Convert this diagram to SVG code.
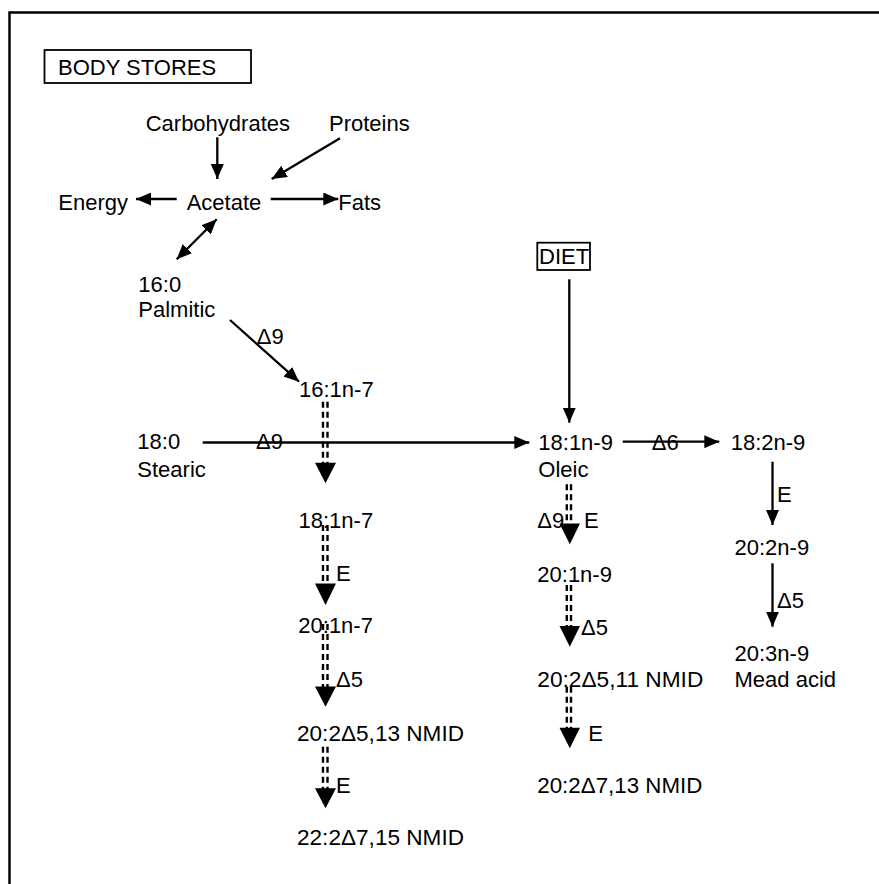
<svg xmlns="http://www.w3.org/2000/svg" width="879" height="884" viewBox="0 0 879 884">
<style>
text{font-family:"Liberation Sans",Arial,sans-serif;font-size:22px;fill:#000}
.ln{stroke:#000;stroke-width:2.3;fill:none}
.ds{stroke:#000;stroke-width:2.4;fill:none;stroke-dasharray:6 4}
.hd{fill:#000}
.bx{fill:none;stroke:#000;stroke-width:1.8}
</style>
<defs>
<marker id="ah" markerUnits="userSpaceOnUse" markerWidth="16" markerHeight="13" refX="15" refY="6.5" orient="auto-start-reverse">
<path d="M0,0 L15,6.5 L0,13 z" fill="#000"/>
</marker>
</defs>
<rect width="879" height="884" fill="#fff"/>
<path d="M9.5,884 V12.5 H879" fill="none" stroke="#000" stroke-width="2.5"/>

<g id="body-stores"><rect class="bx" x="44.5" y="50" width="206.5" height="33"/><text x="58" y="75">BODY STORES</text></g>
<g id="carbohydrates"><text x="145.7" y="130.7">Carbohydrates</text></g>
<g id="proteins"><text x="329" y="130.7">Proteins</text></g>
<g id="energy"><text x="58.3" y="210">Energy</text></g>
<g id="acetate"><text x="186.7" y="210">Acetate</text></g>
<g id="fats"><text x="338.3" y="210">Fats</text></g>
<g id="palmitic"><text x="138.3" y="291.7">16:0</text><text x="138.3" y="316.7">Palmitic</text></g>
<g id="n16-1n7"><text x="299" y="396.7">16:1n-7</text></g>
<g id="stearic"><text x="137.3" y="449.3">18:0</text><text x="137.3" y="476.7">Stearic</text></g>
<g id="diet"><rect class="bx" x="537.3" y="242.7" width="52.7" height="27.3"/><text x="539" y="264">DIET</text></g>
<g id="oleic"><text x="538.3" y="450">18:1n-9</text><text x="538.3" y="476.7">Oleic</text></g>
<g id="n18-2n9"><text x="730.7" y="450">18:2n-9</text></g>
<g id="n20-2n9"><text x="734.5" y="555">20:2n-9</text></g>
<g id="mead"><text x="734.5" y="660.7">20:3n-9</text><text x="734.5" y="686.7">Mead acid</text></g>
<g id="n18-1n7"><text x="298.5" y="527.5">18:1n-7</text></g>
<g id="n20-1n7"><text x="298.3" y="633.3">20:1n-7</text></g>
<g id="n20-2d513"><text x="297" y="740.7" textLength="167" lengthAdjust="spacingAndGlyphs">20:2Δ5,13 NMID</text></g>
<g id="n22-2d715"><text x="297" y="845" textLength="167" lengthAdjust="spacingAndGlyphs">22:2Δ7,15 NMID</text></g>
<g id="n20-1n9"><text x="537.3" y="581.7">20:1n-9</text></g>
<g id="n20-2d511"><text x="537.3" y="687.3" textLength="166" lengthAdjust="spacingAndGlyphs">20:2Δ5,11 NMID</text></g>
<g id="n20-2d713"><text x="537.3" y="793.3" textLength="165" lengthAdjust="spacingAndGlyphs">20:2Δ7,13 NMID</text></g>

<g id="connectors">
<line class="ln" x1="217.3" y1="137.3" x2="217.3" y2="179" marker-end="url(#ah)"/>
<line class="ln" x1="340" y1="138.3" x2="271.7" y2="179" marker-end="url(#ah)"/>
<line class="ln" x1="176.7" y1="199" x2="136" y2="199" marker-end="url(#ah)"/>
<line class="ln" x1="270.7" y1="199" x2="338.3" y2="199" marker-end="url(#ah)"/>
<line class="ln" x1="216.7" y1="219.3" x2="176.7" y2="259.3" marker-start="url(#ah)" marker-end="url(#ah)"/>
<line class="ln" x1="230" y1="320" x2="299" y2="381.7" marker-end="url(#ah)"/>
<line class="ln" x1="202.7" y1="442.5" x2="529.3" y2="442.5" marker-end="url(#ah)"/>
<line class="ln" x1="569.3" y1="279.3" x2="569.3" y2="422.7" marker-end="url(#ah)"/>
<line class="ln" x1="622.7" y1="441.7" x2="719.3" y2="441.7" marker-end="url(#ah)"/>
<line class="ln" x1="772.5" y1="461.7" x2="772.5" y2="525" marker-end="url(#ah)"/>
<line class="ln" x1="772.5" y1="563.3" x2="772.5" y2="626.7" marker-end="url(#ah)"/>

<path class="ds" d="M323,401.7 V463 M327.5,401.7 V463"/>
<polygon class="hd" points="315,462.7 336,462.7 325.5,483.3"/>
<path class="ds" d="M323,525 V584 M327.5,525 V584"/>
<polygon class="hd" points="315,583.5 336,583.5 325.5,605"/>
<path class="ds" d="M323,624 V687 M327.5,624 V687"/>
<polygon class="hd" points="315,686.5 336,686.5 325.5,706.7"/>
<path class="ds" d="M323,746.7 V789 M327.5,746.7 V789"/>
<polygon class="hd" points="315,788.3 336,788.3 325.5,808.3"/>

<path class="ds" d="M566.8,484.3 V524 M571,484.3 V524"/>
<polygon class="hd" points="559.5,523.5 580,523.5 569.8,544.3"/>
<path class="ds" d="M566.8,585 V627 M571,585 V627"/>
<polygon class="hd" points="559.5,626 580,626 569.8,646.7"/>
<path class="ds" d="M566.8,686.7 V728 M571,686.7 V728"/>
<polygon class="hd" points="559.5,727.7 580,727.7 569.8,748.3"/>
</g>

<g id="labels">
<text x="256.7" y="344">Δ9</text>
<text x="256" y="449.3">Δ9</text>
<text x="651.7" y="450">Δ6</text>
<text x="537.3" y="528.3">Δ9</text>
<text x="584" y="528.3">E</text>
<text x="777" y="502">E</text>
<text x="777" y="608.3">Δ5</text>
<text x="336" y="581">E</text>
<text x="336" y="687.3">Δ5</text>
<text x="336" y="793.3">E</text>
<text x="581" y="635">Δ5</text>
<text x="588.3" y="740.7">E</text>
</g>
</svg>
